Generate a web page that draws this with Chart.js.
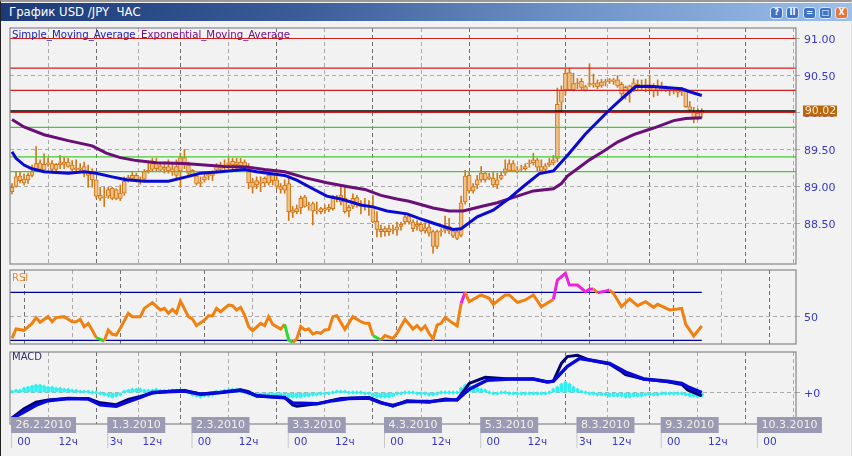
<!DOCTYPE html>
<html>
<head>
<meta charset="utf-8">
<script src="https://cdn.jsdelivr.net/npm/chart.js@4"></script>
<style>
  html, body { margin: 0; padding: 0; width: 852px; height: 456px; overflow: hidden; background: #f2f2f2; }
  canvas { position: absolute; left: 0; }
  #edge { position: absolute; left: 0; top: 0; width: 850px; height: 454px; border-left: 1px solid #222; border-top: 2px solid #999; border-bottom: 1px solid #ccc; border-right: 1px solid #ddd; box-sizing: content-box; }
  #bar { position: absolute; left: 1px; top: 3px; width: 851px; height: 18px; background: linear-gradient(90deg, #1c3a78 0%, #3a5c98 35%, #6a8fc4 65%, #9cc0ea 100%); }
  #title { position: absolute; left: 8px; top: 1px; color: #fff; font: 11.7px "DejaVu Sans"; white-space: pre; line-height: 16px; }
  .btn { position: absolute; top: 4px; width: 11px; height: 10px; border-radius: 3px; background: #3f73c8; border: 1px solid #d8e6f8; color: #fff; font: bold 8px/10px "DejaVu Sans"; text-align: center; }
</style>
</head>
<body>
<div id="edge"></div>
<div id="bar">
  <div id="title">График USD /JPY  ЧАС</div>
  <div class="btn" style="left:769px">?</div>
  <div class="btn" style="left:785px">II</div>
  <div class="btn" style="left:802px">=</div>
  <div class="btn" style="left:818px">□</div>
  <div class="btn" style="left:834px;background:#e8743a">X</div>
</div>
<canvas id="mainChart" width="852" height="268" style="top:0"></canvas>
<canvas id="rsiChart" width="852" height="80" style="top:268px"></canvas>
<canvas id="macdChart" width="852" height="108" style="top:348px"></canvas>
<script>
// hourly candles
const bodyHigh = [
  88.99,89.13,89.14,89.10,89.15,89.20,89.31,89.32,89.30,89.32,
  89.31,89.30,89.32,89.33,89.33,89.29,89.25,89.25,89.27,89.20,
  89.20,89.09,88.88,88.86,88.96,88.98,88.96,88.91,89.07,89.12,
  89.15,89.15,89.09,89.20,89.22,89.31,89.32,89.28,89.26,89.27,
  89.24,89.27,89.39,89.39,89.29,89.22,89.14,89.06,89.13,89.16,
  89.18,89.29,89.27,89.29,89.32,89.34,89.33,89.33,89.33,89.20,
  89.06,89.08,89.06,89.11,89.15,89.16,89.09,89.00,89.02,89.04,
  88.68,88.70,88.84,88.86,88.75,88.77,88.68,88.70,88.70,88.72,
  88.84,88.84,88.88,88.84,88.72,88.84,88.85,88.75,88.73,88.73,
  88.73,88.53,88.42,88.43,88.43,88.42,88.45,88.49,88.59,88.60,
  88.52,88.49,88.49,88.44,88.45,88.39,88.39,88.40,88.46,88.46,
  88.40,88.39,88.78,89.14,89.15,89.00,89.09,89.18,89.18,89.13,
  89.11,89.09,89.15,89.24,89.31,89.31,89.22,89.24,89.27,89.32,
  89.36,89.36,89.27,89.28,89.32,89.36,90.11,90.30,90.53,90.54,
  90.39,90.40,90.42,90.35,90.39,90.39,90.40,90.41,90.42,90.44,
  90.44,90.44,90.38,90.34,90.36,90.40,90.38,90.37,90.37,90.37,
  90.35,90.34,90.34,90.32,90.31,90.30,90.30,90.30,90.29,90.08,
  90.01,89.99,90.02
];
const bodyLow = [
  88.93,89.00,89.08,89.05,89.09,89.15,89.22,89.23,89.22,89.30,
  89.23,89.23,89.29,89.30,89.27,89.23,89.23,89.23,89.20,89.15,
  89.09,88.87,88.84,88.85,88.87,88.84,88.84,88.84,88.91,89.09,
  89.11,89.09,89.09,89.10,89.20,89.23,89.24,89.22,89.23,89.21,
  89.20,89.15,89.21,89.29,89.18,89.16,89.04,89.04,89.09,89.14,
  89.15,89.22,89.23,89.26,89.29,89.29,89.29,89.28,89.27,89.05,
  88.99,89.02,89.04,89.05,89.05,89.08,89.00,88.96,88.95,88.66,
  88.65,88.66,88.71,88.73,88.74,88.67,88.67,88.66,88.68,88.69,
  88.70,88.83,88.79,88.66,88.67,88.73,88.75,88.73,88.72,88.72,
  88.52,88.42,88.39,88.39,88.39,88.41,88.41,88.46,88.52,88.52,
  88.43,88.46,88.40,88.40,88.37,88.19,88.19,88.39,88.41,88.40,
  88.33,88.30,88.34,88.79,88.94,88.94,89.02,89.09,89.09,89.11,
  89.02,89.02,89.11,89.18,89.21,89.21,89.21,89.23,89.24,89.31,
  89.32,89.26,89.21,89.23,89.29,89.32,89.38,90.14,90.31,90.31,
  90.31,90.39,90.34,90.30,90.38,90.37,90.35,90.36,90.41,90.42,
  90.42,90.36,90.25,90.23,90.26,90.31,90.34,90.34,90.35,90.32,
  90.29,90.29,90.32,90.29,90.29,90.29,90.27,90.28,90.08,90.03,
  89.92,89.93,89.99
];
const wickHigh = [
  89.04,89.20,89.20,89.17,89.18,89.29,89.54,89.36,89.44,89.38,
  89.35,89.31,89.42,89.39,89.38,89.35,89.36,89.31,89.33,89.29,
  89.24,89.09,88.99,88.99,88.99,88.99,88.97,89.02,89.13,89.15,
  89.20,89.18,89.13,89.23,89.33,89.38,89.38,89.33,89.33,89.36,
  89.31,89.36,89.45,89.50,89.33,89.23,89.18,89.13,89.18,89.20,
  89.21,89.31,89.33,89.36,89.38,89.38,89.38,89.38,89.36,89.31,
  89.11,89.13,89.13,89.13,89.20,89.17,89.20,89.04,89.09,89.15,
  88.73,88.75,88.87,88.88,88.79,88.79,88.79,88.72,88.75,88.76,
  88.88,88.88,88.99,88.99,88.75,88.90,88.88,88.81,88.84,88.81,
  88.88,88.66,88.48,88.46,88.48,88.48,88.52,88.52,88.63,88.63,
  88.55,88.54,88.52,88.51,88.50,88.41,88.41,88.43,88.60,88.57,
  88.43,88.41,88.87,89.22,89.20,89.04,89.15,89.27,89.20,89.18,
  89.20,89.18,89.20,89.36,89.36,89.35,89.27,89.29,89.31,89.36,
  89.45,89.38,89.36,89.31,89.38,89.42,90.33,90.36,90.59,90.60,
  90.53,90.46,90.46,90.37,90.66,90.52,90.44,90.45,90.45,90.46,
  90.46,90.50,90.41,90.36,90.37,90.46,90.44,90.44,90.45,90.50,
  90.39,90.44,90.41,90.36,90.34,90.34,90.34,90.34,90.32,90.15,
  90.07,90.05,90.05
];
const wickLow = [
  88.90,88.99,89.05,89.02,89.04,89.13,89.20,89.20,89.20,89.27,
  89.21,89.20,89.24,89.24,89.26,89.20,89.20,89.20,89.13,88.99,
  88.99,88.84,88.81,88.73,88.84,88.82,88.82,88.81,88.88,89.06,
  89.09,89.06,89.03,89.09,89.18,89.20,89.20,89.20,89.18,89.18,
  89.15,89.09,88.99,89.24,89.15,89.15,89.02,89.00,89.06,89.09,
  89.08,89.18,89.20,89.22,89.24,89.23,89.24,89.24,89.22,88.97,
  88.91,88.97,88.93,89.00,89.02,89.02,88.97,88.91,88.91,88.54,
  88.58,88.63,88.63,88.72,88.68,88.48,88.63,88.63,88.64,88.66,
  88.68,88.79,88.75,88.64,88.59,88.70,88.72,88.63,88.68,88.61,
  88.51,88.32,88.32,88.33,88.34,88.36,88.34,88.41,88.49,88.49,
  88.39,88.41,88.39,88.37,88.33,88.10,88.16,88.33,88.37,88.36,
  88.31,88.28,88.32,88.76,88.91,88.91,88.97,89.06,89.06,89.09,
  88.99,88.97,89.09,89.15,89.20,89.20,89.18,89.20,89.22,89.26,
  89.29,89.21,89.20,89.20,89.27,89.29,89.33,90.01,90.23,90.30,
  90.29,90.32,90.30,90.29,90.35,90.34,90.32,90.34,90.36,90.39,
  90.38,90.34,90.19,90.18,90.14,90.28,90.30,90.31,90.28,90.30,
  90.21,90.23,90.29,90.28,90.23,90.25,90.21,90.23,90.07,90.02,
  89.86,89.90,89.93
];

const smaHours = [0,1,3,5,8,14,18,21,25,28.5,33,39,43.5,47,52,58,61,68,71,75,78.5,82,87,90,93.5,98.5,102.5,107,110,112,116,120,124,127.5,131.5,135,138.5,143,148.5,151.5,155.5,159,167,169,172];
const smaValues = [89.47,89.38,89.29,89.24,89.20,89.18,89.20,89.18,89.13,89.09,89.07,89.07,89.13,89.18,89.20,89.23,89.20,89.15,89.085,88.97,88.87,88.83,88.75,88.725,88.67,88.63,88.55,88.47,88.42,88.43,88.59,88.68,88.84,89.00,89.175,89.21,89.42,89.71,90.01,90.16,90.35,90.355,90.32,90.28,90.23];
const emaHours = [0,3,8,14,20,23.5,27,31,36,43,48,53,58.5,63,68,73,78.5,83.5,88,92,96,99,105,109,112.5,117,121,126,130,135,137,138.5,141,144,147,151,155,160,165,168,172];
const emaValues = [89.905,89.805,89.70,89.62,89.55,89.45,89.39,89.35,89.32,89.31,89.29,89.27,89.265,89.23,89.20,89.12,89.05,89.00,88.96,88.88,88.83,88.80,88.71,88.67,88.67,88.73,88.78,88.87,88.94,88.97,89.04,89.14,89.24,89.36,89.46,89.60,89.70,89.79,89.89,89.92,89.93];

const redLevels = [91, 90.6, 90.3, 90];
const greenLevels = [89.8, 89.4, 89.2];
const lastPrice = 90.02;
const priceTicks = [88.5, 89, 89.5, 90, 90.5, 91];

const rsiHours = [0,1,3,5,6,7,9,10,11,13,15,16,17,18,19,20,21,23,24,25,26,27,29,30,32,33,35,37,38,39,40,41,42,44,45,46,48,49,50,51,52,54,55,56,57,58,59,60,62,63,64,65,67,68,69,70,71,72,73,74,75,76,77,78,79,80,81,83,85,87,88,89,90,92,93,95,96,98,100,101,102,103,104,105,106,107,108,110,111,112,113,114,117,119,120,123,124,126,128,130,132,135,136,138,139,141,143,144,145,146,148,149,150,152,154,156,158,160,161,164,166,167,168,170,172];
const rsiValues = [31.6,39.4,38.3,44.1,48.9,45,49.7,45.5,48.9,49.7,45.5,45.5,47.5,41.4,44.1,38.6,32.2,29.4,38.6,35,34.4,40,52.5,49.7,49.7,56.6,61.4,55.3,56.6,52.5,55.8,52.5,62.7,49.7,47.7,42.2,46.9,50.5,50.5,56.6,53.8,59.4,58.9,55.3,57.5,51.1,41.4,38,44.1,42.2,49.7,43.3,39.4,43.3,30.25,28.3,31.1,41.4,38.6,39.4,35.2,36.6,35.8,38.6,39.1,49.7,50.5,39.1,49.7,45.5,44.1,44.1,33.9,30.25,33.9,31.6,35.8,47.5,39.4,42.2,38.6,41.9,35.8,31.1,42.7,44.1,48.9,44.1,41.9,60.8,70,62.2,67.75,65,60,67.75,67.75,61.6,63.6,67.75,58,64.1,80.25,85.8,76,76,70.5,72.5,72.75,69.7,71,71.9,69.1,58,64.4,58.9,62.2,57.5,60,55.3,56,56.6,43.3,33.6,41.9];
const rsiLevels = [70, 30];
const rsiTicks = [50];

const macdHours = [0,3,6,9,14,19,22,26,29,32,35,40,43,47,52,57,59,61,68,70,76,80,84,89,92,95,98.5,104,108,111,114,118.5,124,130,133.5,135,138.5,141.5,144,149,153,157.5,163.5,167,169,172];
const macdValues = [-26.6,-20,-13,-8.3,-6,-6.6,-12.6,-14,-9.3,-5,0,1,1.7,-1.6,0,2.4,0,-3.3,-5.3,-10.6,-11.6,-8.3,-6,-5.6,-10.6,-13.3,-9.3,-9.3,-7.6,-7.3,3.4,12.7,14,14,11,11.7,27,35,33.4,30,21,14,11.7,9.4,5,0];
const signalHours = [0,3,6,9,14,19,22,26,29,32,35,40,43,47,52,57,59,61,68,70,71,76,82,89,92,95,98.5,104,108,111,114,118,124,130,133.5,135,137,138.5,141,144,149,152,153,157.5,163.5,167,168.5,172];
const signalValues = [-26,-16.6,-10,-7.6,-6,-6,-10.5,-12.5,-7,-4,-0.5,1.5,2,-1.5,0,3,1,-3.5,-5,-12.6,-14,-11.6,-6,-5,-10,-14,-8.3,-10,-6.7,-7.6,9.4,15.7,14,14,11,11.7,30,37,38.4,33.4,29.4,21.7,18.4,14,11,8.4,2.7,-3.3];
const macdHist = [
  1,2,2,4,5,6,7,7,6,5,5,4,4,3,3,2,2,1,1,1,0,0,
  -1,-2,-3,-4,-3,-2,
  1,2,3,3,3,2,2,2,3,2,2,2,2,2,2,2,1,
  -2,-3,-4,-3,-3,-2,
  1,1,2,3,3,3,2,1,
  -1,-2,-3,-3,-3,-2,-2,-2,-2,
  -3,-4,-4,-4,-4,-3,-3,-2,-2,-1,-1,-1,0,
  1,1,1,0,0,0,0,-1,-1,
  -3,-4,-4,-4,-4,-3,
  -1,-1,0,0,0,-1,-1,-1,-2,-2,-1,
  0,0,0,0,0,
  4,7,7,5,4,3,2,
  0,-1,-1,0,0,-1,-1,-1,-1,-1,-1,-1,-1,-1,-1,0,
  3,5,8,10,8,5,3,
  1,0,-1,-1,-2,-2,-2,-3,-3,-3,-3,-4,-4,-3,-3,-3,-2,-2,-2,-2,-1,-1,-1,-1,-1,-1,-2,-3,-3,-4,-3
];
const macdTicks = [0];

// time axis, counted in candles from the first one
const gridHours = [3,15,27,36,48,60,72,84,96,108,120,132,144,153,165,177,189];
const dayHours = [3,27,48,72,96,120,144,165,189];
const dayLabels = ['26.2.2010','1.3.2010','2.3.2010','3.3.2010','4.3.2010','5.3.2010','8.3.2010','9.3.2010','10.3.2010'];
const hourLabelAt = [3,15,27,36,48,60,72,84,96,108,120,132,144,153,165,177,189];
const hourLabels = ['00','12ч','3ч','12ч','00','12ч','00','12ч','00','12ч','00','12ч','3ч','12ч','00','12ч','00'];

const firstHour = -0.5, lastHour = 195.5;
const BLUE_TEXT = '#3838c8';
const FONT = '"DejaVu Sans"';

function toPoints(xs, ys){
  return xs.map((x, i) => ({x: x, y: ys[i]}));
}

function levelLine(value, color, width, endHour){
  return {
    type: 'line',
    data: [{x: firstHour, y: value}, {x: endHour, y: value}],
    borderColor: color,
    borderWidth: width,
    pointRadius: 0,
    order: 2
  };
}

function curve(xs, ys, color, width, order){
  return {
    type: 'line',
    data: toPoints(xs, ys),
    borderColor: color,
    borderWidth: width,
    pointRadius: 0,
    tension: 0,
    order: order
  };
}

// frame and small captions, drawn after the datasets
function framePlugin(captions, extra){
  return {
    id: 'frame',
    afterDraw(chart){
      const ctx = chart.ctx;
      const a = chart.chartArea;
      ctx.save();
      ctx.strokeStyle = '#888888';
      ctx.lineWidth = 1.2;
      ctx.strokeRect(a.left, a.top, a.right - a.left, a.bottom - a.top);
      ctx.textBaseline = 'middle';
      ctx.textAlign = 'left';
      for(const c of captions){
        ctx.font = c.font;
        ctx.fillStyle = c.color;
        ctx.fillText(c.text, c.x, c.y);
      }
      ctx.restore();
      if(extra) extra(chart);
    }
  };
}

function noPadding(s){
  s.paddingTop = s.paddingBottom = s.paddingLeft = s.paddingRight = 0;
}

function panelOptions(top, bottom, yMin, yMax, yTicks, labelFn){
  return {
    responsive: false,
    animation: false,
    events: [],
    layout: {padding: {left: 10, top: top, bottom: bottom, right: 0}},
    plugins: {legend: {display: false}, tooltip: {enabled: false}},
    datasets: {bar: {grouped: false}},
    scales: {
      x: {
        type: 'linear',
        offset: false,
        min: firstHour,
        max: lastHour,
        afterBuildTicks: s => { s.ticks = gridHours.map(v => ({value: v})); },
        afterFit: s => { s.height = 0; noPadding(s); },
        ticks: {display: false},
        border: {display: false, dash: [4, 3]},
        grid: {
          drawTicks: false,
          lineWidth: 1,
          color: c => c.tick && dayHours.includes(c.tick.value) ? '#707070' : '#ababab'
        }
      },
      y: {
        position: 'right',
        min: yMin,
        max: yMax,
        afterBuildTicks: s => { s.ticks = yTicks.map(v => ({value: v})); },
        afterFit: s => { s.width = 56; noPadding(s); },
        border: {display: false, dash: [4, 3]},
        grid: {color: '#ababab', tickLength: 4, lineWidth: 1},
        ticks: {
          color: BLUE_TEXT,
          padding: 4,
          labelOffset: 2,
          font: {family: 'DejaVu Sans', size: 11},
          callback: labelFn
        }
      }
    }
  };
}

function drawPriceBox(chart){
  const ctx = chart.ctx;
  const y = chart.scales.y.getPixelForValue(lastPrice);
  ctx.save();
  ctx.fillStyle = '#b8670f';
  ctx.fillRect(803, y - 5.5, 34, 11);
  ctx.fillStyle = '#f8e8c8';
  ctx.font = '11px ' + FONT;
  ctx.textBaseline = 'middle';
  ctx.fillText(lastPrice.toFixed(2), 804.7, y + 0.5);
  ctx.restore();
}

function drawTimeAxis(chart){
  const ctx = chart.ctx;
  const x = chart.scales.x;
  const boxTop = 417 - 348, boxH = 16;
  ctx.save();
  ctx.textBaseline = 'middle';
  // light stems under each day box
  ctx.strokeStyle = '#c8c8c8';
  ctx.lineWidth = 1;
  ctx.font = '11px ' + FONT;
  dayLabels.forEach((text, i) => {
    const left = x.getPixelForValue(dayHours[i]) - 13;
    const w = ctx.measureText(text).width + 9;
    ctx.beginPath();
    ctx.moveTo(left + 0.5, boxTop + boxH);
    ctx.lineTo(left + 0.5, boxTop + boxH + 15);
    ctx.stroke();
    ctx.fillStyle = '#9a9ab4';
    ctx.fillRect(left, boxTop, w, boxH);
    ctx.fillStyle = '#f4f0e4';
    ctx.textAlign = 'center';
    ctx.fillText(text, left + w / 2, boxTop + boxH / 2 + 0.5);
  });
  ctx.fillStyle = BLUE_TEXT;
  ctx.font = '10.5px ' + FONT;
  hourLabels.forEach((text, i) => {
    const shift = text.length > 2 || text === '3ч' ? -4 : 0;
    ctx.fillText(text, x.getPixelForValue(hourLabelAt[i]) + shift, 442 - 348);
  });
  ctx.restore();
}

const candleWicks = wickHigh.map((h, i) => ({x: i, y: [wickLow[i], h]}));
const candleBodies = bodyHigh.map((h, i) => ({x: i, y: [bodyLow[i], h]}));

const mainDatasets = [
  {type: 'bar', data: candleWicks, backgroundColor: '#d07818', barThickness: 1, order: 6},
  {type: 'bar', data: candleBodies, backgroundColor: '#f0c088', borderColor: '#d07818', borderWidth: 1, borderSkipped: false, barThickness: 4, order: 5}
];
for(const v of redLevels) mainDatasets.push(levelLine(v, '#cc2020', 1.2, lastHour));
for(const v of greenLevels) mainDatasets.push(levelLine(v, '#48c838', 1.3, lastHour));
mainDatasets.push(levelLine(lastPrice, '#000000', 1.6, lastHour));
mainDatasets.push(curve(emaHours, emaValues, '#6a0f78', 3, 1));
mainDatasets.push(curve(smaHours, smaValues, '#0a0ad0', 3, 0));

new Chart(document.getElementById('mainChart'), {
  type: 'bar',
  data: {datasets: mainDatasets},
  options: panelOptions(28, 4, 87.9527, 91.1419, priceTicks, v => v.toFixed(2)),
  plugins: [framePlugin([
    {text: 'Simple_Moving_Average', x: 12, y: 35, color: '#2020c0', font: '10.2px ' + FONT},
    {text: 'Exponential_Moving_Average', x: 141, y: 35, color: '#70108a', font: '10.2px ' + FONT}
  ], drawPriceBox)]
});

const rsiLine = curve(rsiHours, rsiValues, '#f08010', 3, 0);
rsiLine.segment = {
  borderColor: c => {
    if(c.p1.parsed.y >= 70) return '#ee22dd';
    if(c.p1.parsed.y <= 30.3) return '#30d830';
    return undefined;
  }
};

new Chart(document.getElementById('rsiChart'), {
  type: 'line',
  data: {datasets: [
    levelLine(rsiLevels[0], '#000090', 1.2, 172),
    levelLine(rsiLevels[1], '#000090', 1.2, 172),
    rsiLine
  ]},
  options: panelOptions(2, 4, 26.9, 88.6, rsiTicks, v => String(v)),
  plugins: [framePlugin([{text: 'RSI', x: 12, y: 10, color: '#e88a30', font: '10px ' + FONT}])]
});

new Chart(document.getElementById('macdChart'), {
  type: 'bar',
  data: {datasets: [
    {type: 'bar', data: macdHist.map((v, i) => ({x: i, y: v})), backgroundColor: '#30f0f0', barThickness: 3, order: 4},
    {type: 'line', data: macdHist.map((v, i) => ({x: i, y: v})), showLine: false, pointStyle: 'rectRot', pointRadius: 2.2, pointBackgroundColor: '#30f0f0', pointBorderWidth: 0, order: 3},
    curve(signalHours, signalValues, '#000070', 3, 1),
    curve(macdHours, macdValues, '#0808d8', 3.5, 0)
  ]},
  options: panelOptions(2, 32, -32.3, 41.7, macdTicks, v => '+' + v),
  plugins: [framePlugin([{text: 'MACD', x: 12, y: 9, color: '#303068', font: '10px ' + FONT}], drawTimeAxis)]
});
</script>
</body>
</html>
